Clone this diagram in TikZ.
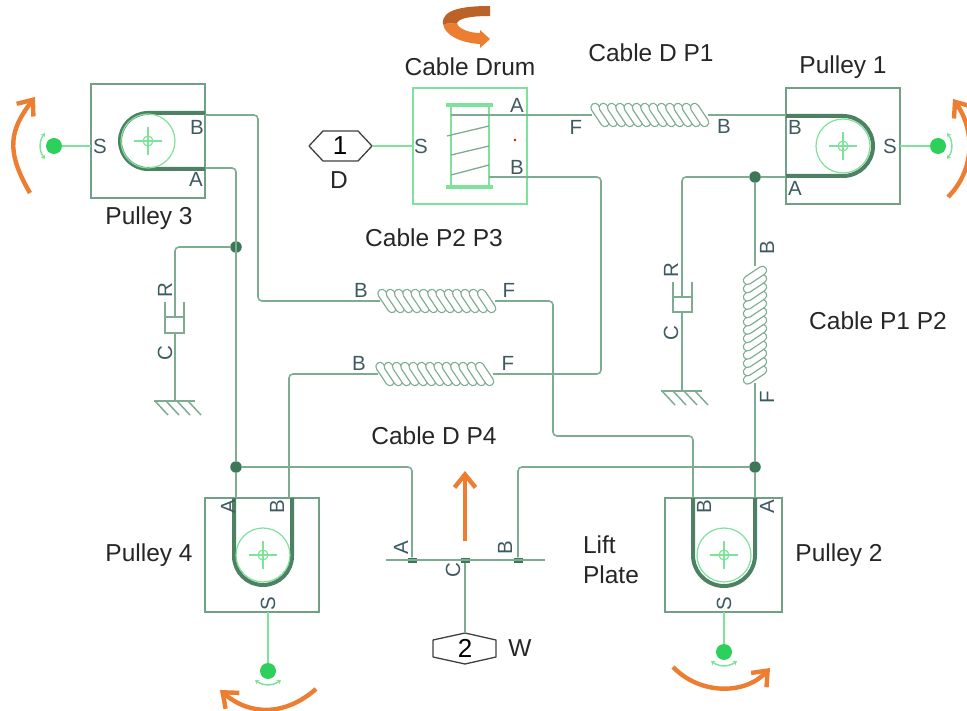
\documentclass[tikz,border=0pt]{standalone}
\usepackage{fontspec}
\setmainfont{Liberation Sans}
\usepackage{xcolor}
\usetikzlibrary{arrows.meta}
\definecolor{wirec}{RGB}{125,172,146}
\definecolor{blockc}{RGB}{112,160,134}
\definecolor{mechc}{RGB}{126,226,155}
\definecolor{beltc}{RGB}{78,128,100}
\definecolor{jointc}{RGB}{60,120,88}
\definecolor{spotc}{RGB}{46,208,92}
\definecolor{portc}{RGB}{62,90,96}
\definecolor{movec}{RGB}{237,125,49}
\definecolor{movedk}{RGB}{186,98,40}
\tikzset{
  blk/.style={rectangle,draw=blockc,line width=1.3pt,inner sep=0pt,minimum width=114pt,minimum height=114pt},
  lbl/.style={font=\fontsize{24.5}{30}\selectfont,text=black!85,inner sep=0pt},
  port/.style={font=\fontsize{20.5}{22}\selectfont,text=portc,inner sep=0pt},
  wire/.style={line width=1.6pt,wirec,rounded corners=4pt},
  mech/.style={line width=1.5pt,mechc},
  belt/.style={line width=4pt,beltc},
  sheave/.style={line width=1.2pt,mechc},
  jct/.style={circle,fill=jointc,minimum size=11.5pt,inner sep=0pt},
  spot/.style={circle,fill=spotc,minimum size=16pt,inner sep=0pt},
  tab/.style={rectangle,fill=jointc,minimum width=9pt,minimum height=5pt,inner sep=0pt},
  hexa/.style={line width=1.3pt,draw=black!75,fill=white,line join=round},
  move/.style={line width=4.4pt,movec,-{Straight Barb[length=13pt,width=21pt,line width=4.4pt]}},
  rope/.pic={
    \foreach \i in {0,...,12}{
      \draw[line width=9.6pt,wirec,line cap=round] ({-55+\i*8.3},-7.5) -- ({-45+\i*8.3},7.5);
      \draw[line width=7pt,white,line cap=round] ({-55+\i*8.3},-7.5) -- ({-45+\i*8.3},7.5);
    }
  },
  wheel/.pic={
    \draw[sheave] (0,0) circle (27pt);
    \draw[sheave] (0,0) circle (5pt);
    \draw[sheave] (-14,0) -- (14,0);
    \draw[sheave] (0,-14) -- (0,14);
  },
  swing/.pic={
    \draw[line width=1.5pt,mechc,{Stealth[length=4pt,width=5pt]}-{Stealth[length=4pt,width=5pt]}] (-9,-13) .. controls (-15,-5) and (-15,5) .. (-9,13);
  },
  earth/.pic={
    \draw[line width=1.5pt,wirec] (-21,0) -- (20,0);
    \foreach \i in {0,...,3}{\draw[line width=1.5pt,wirec] ({-20+\i*11},0) -- ({-7+\i*11},14);}
  },
}
\begin{document}
\begin{tikzpicture}[x=1pt,y=-1pt]
  \useasboundingbox (0,0) rectangle (967,711);
  \clip (0,0) rectangle (967,711);

  \node[blk](P3) at (148,141){};
  \node[blk,minimum height=116pt](P1) at (843,146){};
  \node[blk](P4) at (262,555){};
  \node[blk,minimum width=117pt](P2) at (723.5,555){};
  \node[blk,draw=mechc,minimum height=116pt](D) at (470,146){};

  \draw[belt] (205,113) -- (148,113) arc (90:270:28pt) -- (205,169);
  \draw[belt] (786,116) -- (843,116) arc (90:-90:30pt) -- (786,176);
  \draw[belt] (234,498) -- (234,556) arc (180:360:29pt) -- (292,498);
  \draw[belt] (693,498) -- (693,555) arc (180:360:31pt) -- (755,498);
  \pic at (148,141){wheel}; \pic at (843,146){wheel};
  \pic at (263,555){wheel}; \pic at (724,555){wheel};

  \draw[line width=1.5pt,mechc] (451,105) -- (451,187);
  \draw[line width=1.5pt,mechc] (489,105) -- (489,187);
  \draw[line width=3.6pt,mechc] (446,105) -- (493,105);
  \draw[line width=3.6pt,mechc] (446,187) -- (493,187);
  \draw[line width=1.3pt,wirec] (447,136) -- (489,126);
  \draw[line width=1.3pt,wirec] (451,155) -- (489,146);
  \draw[line width=1.3pt,wirec] (451,175) -- (489,165);
  \fill[red] (515,140) circle (1.4pt);

  \coordinate (p3B) at (205,115); \coordinate (p3A) at (205,168);
  \coordinate (p1B) at (786,115); \coordinate (p1A) at (786,177);
  \coordinate (p4A) at (236,498); \coordinate (p4B) at (289,498);
  \coordinate (p2B) at (693,498); \coordinate (p2A) at (755,498);
  \coordinate (drA) at (451,115); \coordinate (drB) at (489,177);
  \coordinate (r1F) at (592,115); \coordinate (r1B) at (708,115);
  \coordinate (r2B) at (380,301); \coordinate (r2F) at (495,301);
  \coordinate (r4B) at (378,374); \coordinate (r4F) at (493,374);
  \coordinate (r3B) at (755,266); \coordinate (r3F) at (755,383);
  \coordinate (dmLt) at (175,317); \coordinate (dmLb) at (175,333); \coordinate (gndL) at (175,401);
  \coordinate (dmRt) at (682,297); \coordinate (dmRb) at (682,312); \coordinate (gndR) at (682,391);

  \node[jct](j3) at (236,247){}; \node[jct](j4) at (236,467){};
  \node[jct](j1) at (755,177){}; \node[jct](j2) at (755,467){};
  \node[tab](pA) at (412,560){}; \node[tab](pC) at (465,560){}; \node[tab](pB) at (518,560){};
  \coordinate (plL) at (386,560); \coordinate (plR) at (545,560);

  \draw[wire] (p3B) -- ++(53,0) |- (r2B);
  \draw[wire] (p3A) -| (j4);
  \draw[wire] (j4) -- (p4A);
  \draw[wire] (j3) -| (dmLt);
  \draw[wire] (dmLb) -- (gndL);
  \draw[wire] (r2F) -- ++(58,0) -- ++(0,135) -| (p2B);
  \draw[wire] (p4B) |- (r4B);
  \draw[wire] (r4F) -- ++(108,0) |- (drB);
  \draw[wire] (drA) -- (r1F);
  \draw[wire] (r1B) -- (p1B);
  \draw[wire] (p1A) -- (j1);
  \draw[wire] (j1) -| (dmRt);
  \draw[wire] (dmRb) -- (gndR);
  \draw[wire] (j1) -- (r3B);
  \draw[wire] (r3F) -- (j2);
  \draw[wire] (j2) -- (p2A);
  \draw[wire] (j4) -| (pA);
  \draw[wire] (j2) -| (pB);
  \draw[wire] (plL) -- (plR);

  \pic at (650,115){rope}; \pic at (437,301){rope};
  \pic at (435,374){rope}; \pic[rotate=90] at (755,325){rope};

  \draw[wire,rounded corners=0pt] (165,302) -- (165,333) -- (184,333) -- (184,302);
  \draw[wire] (165,317) -- (184,317);
  \draw[wire,rounded corners=0pt] (673,282) -- (673,312) -- (692,312) -- (692,282);
  \draw[wire] (673,297) -- (692,297);
  \pic at (gndL){earth}; \pic at (gndR){earth};

  \node[spot](s3) at (54,146){}; \node[spot](s1) at (938,146){};
  \node[spot](s4) at (268,671){}; \node[spot](s2) at (724,652){};
  \pic at (s3){swing}; \pic[rotate=180] at (s1){swing};
  \pic[rotate=90] at (s4){swing}; \pic[rotate=90] at (s2){swing};
  \coordinate (p3S) at (91,146); \coordinate (p1S) at (900,146);
  \coordinate (p4S) at (268,612); \coordinate (p2S) at (724,612);
  \coordinate (drS) at (413,146);
  \draw[mech] (p3S) -- (s3); \draw[mech] (p1S) -- (s1);
  \draw[mech] (p4S) -- (s4); \draw[mech] (p2S) -- (s2);

  \draw[hexa] (309,146) -- (323,131) -- (358,131) -- (372,146) -- (358,161) -- (323,161) -- cycle;
  \draw[hexa] (433,640) -- (465,633) -- (496,640) -- (496,657) -- (465,664) -- (433,657) -- cycle;
  \node[font=\fontsize{26}{30}\selectfont,inner sep=0pt](h1) at (340,146){1};
  \node[font=\fontsize{26}{30}\selectfont,inner sep=0pt](h2) at (465,648){2};
  \coordinate (h1e) at (372,146); \coordinate (h2t) at (465,633);
  \draw[mech] (h1e) -- (drS);
  \draw[wire] (pC) -- (h2t);

  \draw[move] (30,193) .. controls (5,150) and (10,130) .. (35,97);
  \draw[move] (948,197) .. controls (975,170) and (975,130) .. (953,99);
  \draw[move] (316,689) .. controls (285,716) and (250,716) .. (220,690);
  \draw[move] (673,667) .. controls (700,695) and (745,695) .. (770,668);
  \coordinate (upA) at (465,541); \coordinate (upB) at (465,471);
  \draw[move] (upA) -- (upB);
  \fill[movec] (443,24) .. controls (445,36) and (462,43) .. (480,44) -- (480,48) -- (490,39) -- (480,30) -- (480,33) .. controls (470,33) and (458,29) .. (457,23) -- cycle;
  \fill[movedk] (490,6) .. controls (465,6) and (441,9) .. (443,24) -- (457,23) .. controls (459,18) and (472,16) .. (490,16) -- cycle;

  \node[lbl](tDrum) at (470,67){Cable Drum};
  \node[lbl](tD1) at (651,53){Cable D P1};
  \node[lbl](tP1) at (843,67){Pulley 1};
  \node[lbl](tP3) at (149,218){Pulley 3};
  \node[lbl](tC23) at (434,238){Cable P2 P3};
  \node[lbl](tDin) at (339,180){D};
  \node[lbl](tC12) at (878,321){Cable P1 P2};
  \node[lbl](tD4) at (434,436){Cable D P4};
  \node[lbl](tP4) at (149,555){Pulley 4};
  \node[lbl,align=left](tLift) at (611,560){Lift\\Plate};
  \node[lbl](tP2) at (839,555){Pulley 2};
  \node[lbl](tW) at (520,648){W};

  \node[port](l3S) at (100,146){S}; \node[port](l3B) at (197,127){B}; \node[port](l3A) at (196,179){A};
  \node[port](ldS) at (421,146){S}; \node[port](ldA) at (517,105){A}; \node[port](ldB) at (517,167){B};
  \node[port](lr1F) at (576,127){F}; \node[port](lr1B) at (724,126){B};
  \node[port](l1B) at (795,127){B}; \node[port](l1A) at (795,188){A}; \node[port](l1S) at (890,146){S};
  \node[port](lr2B) at (361,290){B}; \node[port](lr2F) at (509,290){F};
  \node[port](lr4B) at (359,363){B}; \node[port](lr4F) at (508,363){F};
  \node[port,rotate=90](lr3B) at (767,248){B}; \node[port,rotate=90](lr3F) at (767,397){F};
  \node[port,rotate=90](ldmR) at (165,290){R}; \node[port,rotate=90](ldmC) at (165,353){C};
  \node[port,rotate=90](lemR) at (671,270){R}; \node[port,rotate=90](lemC) at (671,333){C};
  \node[port,rotate=90](l4A) at (228,507){A}; \node[port,rotate=90](l4B) at (277,507){B}; \node[port,rotate=90](l4S) at (268,604){S};
  \node[port,rotate=90](l2B) at (704,507){B}; \node[port,rotate=90](l2A) at (767,507){A}; \node[port,rotate=90](l2S) at (724,604){S};
  \node[port,rotate=90](lpA) at (401,548){A}; \node[port,rotate=90](lpB) at (505,548){B}; \node[port,rotate=90](lpC) at (453,570){C};
\end{tikzpicture}
\end{document}
